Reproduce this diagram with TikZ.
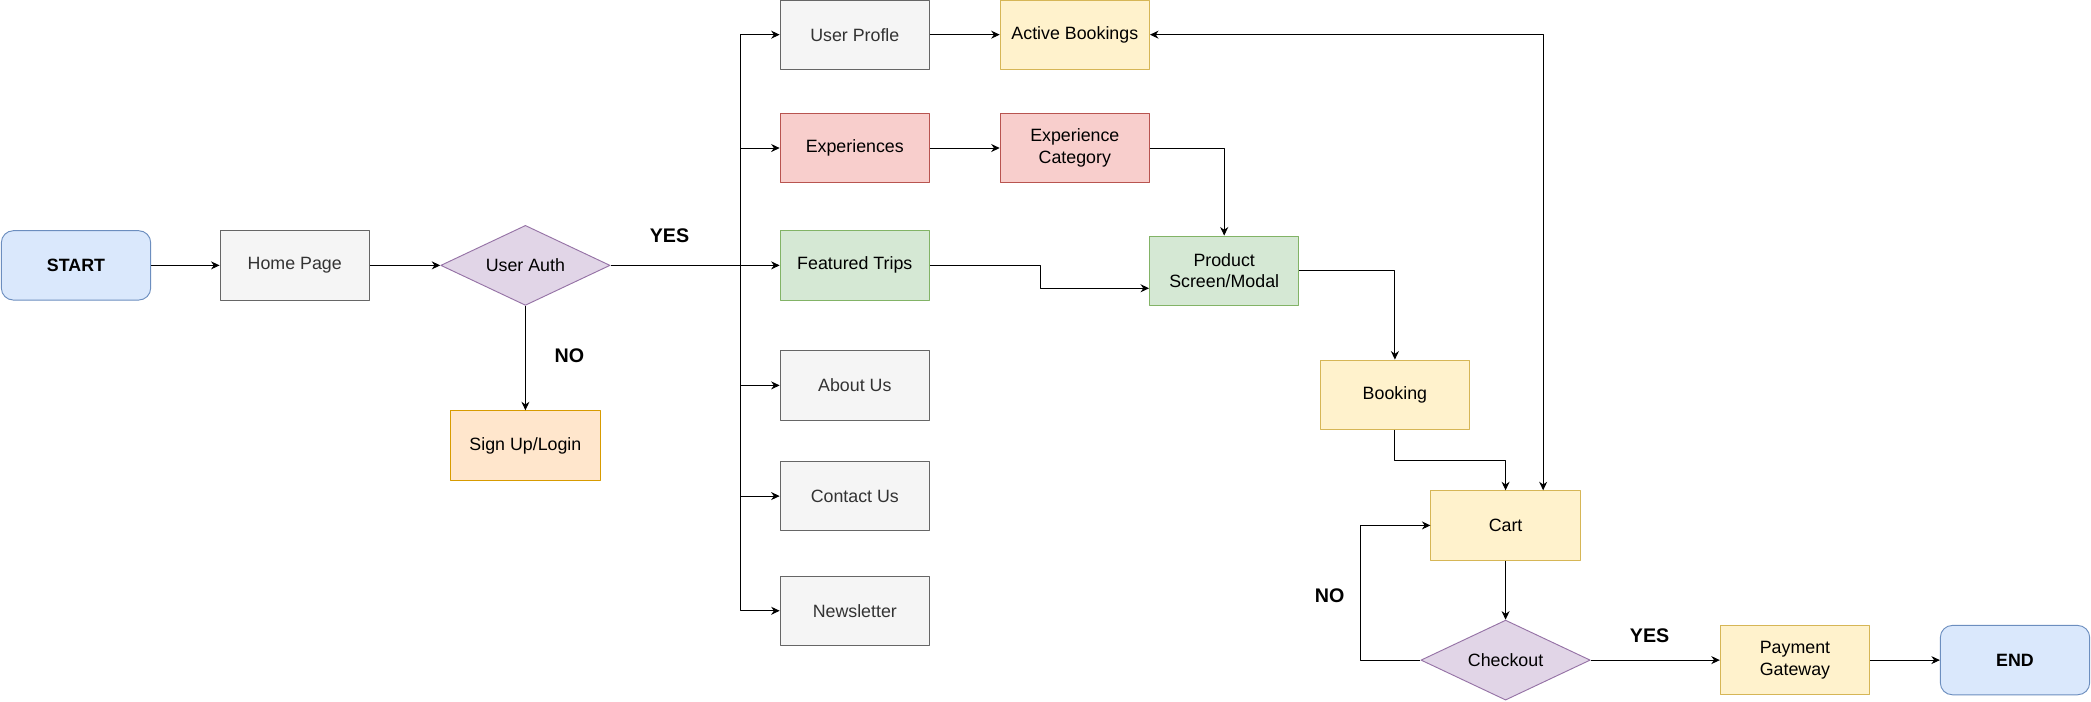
\documentclass[tikz,border=0pt]{standalone}
\usepackage{fontspec}
\setmainfont{Liberation Sans}
\usetikzlibrary{arrows.meta,calc,shapes.geometric}

\definecolor{grayFill}{HTML}{F5F5F5}
\definecolor{grayLine}{HTML}{666666}
\definecolor{grayText}{HTML}{333333}
\definecolor{blueFill}{HTML}{DAE8FC}
\definecolor{blueLine}{HTML}{6C8EBF}
\definecolor{violetFill}{HTML}{E1D5E7}
\definecolor{violetLine}{HTML}{9673A6}
\definecolor{orangeFill}{HTML}{FFE6CC}
\definecolor{orangeLine}{HTML}{D79B00}
\definecolor{yellowFill}{HTML}{FFF2CC}
\definecolor{yellowLine}{HTML}{D6B656}
\definecolor{redFill}{HTML}{F8CECC}
\definecolor{redLine}{HTML}{B85450}
\definecolor{greenFill}{HTML}{D5E8D4}
\definecolor{greenLine}{HTML}{82B366}

\begin{document}
\begin{tikzpicture}[x=0.05cm, y=-0.05cm, font=\fontsize{19}{23}\selectfont,
    line join=round, >={Stealth[length=0.32cm, width=0.3cm]},
    box/.style={draw, line width=1pt, minimum width=5.6cm, minimum height=2.6cm,
        align=center, inner sep=2pt},
    graybox/.style={box, fill=grayFill, draw=grayLine, text=grayText},
    endbox/.style={box, fill=blueFill, draw=blueLine, rounded corners=0.45cm},
    orangebox/.style={box, fill=orangeFill, draw=orangeLine},
    yellowbox/.style={box, fill=yellowFill, draw=yellowLine},
    redbox/.style={box, fill=redFill, draw=redLine},
    greenbox/.style={box, fill=greenFill, draw=greenLine},
    decision/.style={draw=violetLine, fill=violetFill, line width=1pt, shape=diamond,
        aspect=2, inner sep=0pt, minimum width=6.35cm, minimum height=3cm},
    answer/.style={font=\fontsize{21}{25}\selectfont\bfseries},
    flow/.style={->, line width=1pt}]
    \useasboundingbox (0,0) rectangle (1568,526);

    \node[endbox] (start) at (57,199) {\bfseries START};
    \node[graybox] (home) at (221,199) {Home Page};
    \node[decision] (auth) at (394,199) {User Auth};
    \node[orangebox] (signup) at (394,334) {Sign Up/Login};

    \node[graybox] (profile) at (641,26) {User Profle};
    \node[yellowbox] (active) at (806,26) {Active Bookings};
    \node[redbox] (exper) at (641,111) {Experiences};
    \node[redbox] (expcat) at (806,111) {Experience\\Category};
    \node[greenbox] (featured) at (641,199) {Featured Trips};
    \node[greenbox] (product) at (918,203) {Product\\Screen/Modal};
    \node[graybox] (about) at (641,289) {About Us};
    \node[graybox] (contact) at (641,372) {Contact Us};
    \node[graybox] (news) at (641,458) {Newsletter};

    \node[yellowbox] (booking) at (1046,296) {Booking};
    \node[yellowbox] (cart) at (1129,394) {Cart};
    \node[decision] (checkout) at (1129,495) {Checkout};
    \node[yellowbox] (payment) at (1346,495) {Payment\\Gateway};
    \node[endbox] (finish) at (1511,495) {\bfseries END};

    \node[answer] (yes1) at (502,177) {YES};
    \node[answer] (no1) at (427,267) {NO};
    \node[answer] (no2) at (997,447) {NO};
    \node[answer] (yes2) at (1237,477) {YES};

    % main line
    \draw[flow] (start) -- (home);
    \draw[flow] (home) -- (auth);
    \draw[flow] (auth.south) -- (signup.north);

    % menu bus
    \coordinate (bus) at (555,199);
    \draw[line width=1pt] (auth.east) -- (bus);
    \foreach \n in {profile,exper,featured,about,contact,news}
        \draw[flow] (bus) |- (\n.west);

    \draw[flow] (profile) -- (active);
    \draw[flow] (exper) -- (expcat);
    \draw[flow] (featured.east) -- ++(83,0) |- ($(product.west)!0.5!(product.south west)$);
    \draw[flow] (expcat.east) -| (product.north);
    \draw[flow] (product.east) -| (booking.north);
    \draw[flow] (booking.south) -- ++(0,23) -| (cart.north);
    \draw[<->, line width=1pt] (active.east) -| ($(cart.north)!0.5!(cart.north east)$);

    % checkout
    \draw[flow] (cart) -- (checkout);
    \draw[flow] (checkout.west) -- ++(-45,0) |- (cart.west);
    \draw[flow] (checkout.east) -- (payment.west);
    \draw[flow] (payment) -- (finish);
\end{tikzpicture}
\end{document}
